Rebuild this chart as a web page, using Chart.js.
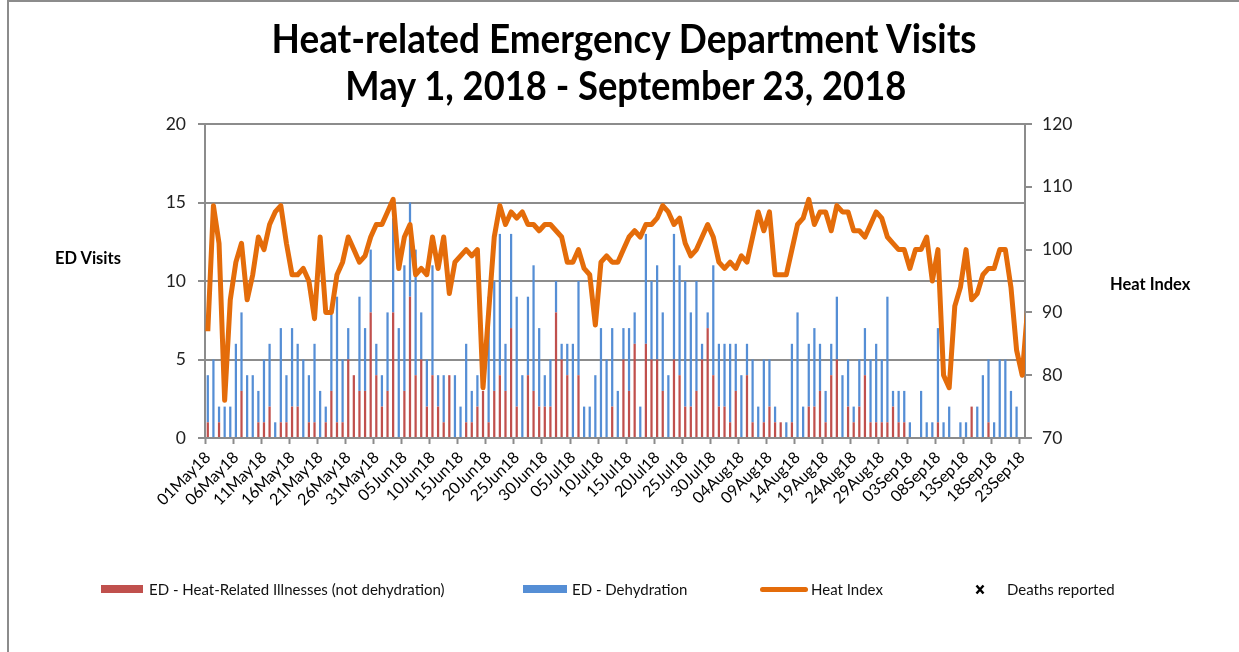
<!DOCTYPE html>
<html>
<head>
<meta charset="utf-8">
<script src="https://cdn.jsdelivr.net/npm/chart.js@4.4.1/dist/chart.umd.min.js"></script>
<style>
html,body{margin:0;padding:0;background:#fff;}
#wrap{position:relative;width:1239px;height:652px;overflow:hidden;font-family:Lato,'Open Sans',sans-serif;color:#000;}
#c{position:absolute;left:0;top:0;}
.frameL{position:absolute;left:7px;top:0;width:2px;height:652px;background:#8c8c8c;}
.frameT{position:absolute;left:7px;top:0;width:1232px;height:2px;background:#8c8c8c;}
.ttl{position:absolute;font-weight:700;font-size:40px;line-height:40px;white-space:nowrap;transform-origin:center center;}
.axt{position:absolute;font-weight:700;font-size:16.5px;line-height:20px;white-space:nowrap;}
.lg{position:absolute;font-size:15px;line-height:18px;white-space:nowrap;color:#111;}
.sw{position:absolute;}
</style>
</head>
<body>
<div id="wrap">
  <canvas id="c" width="1239" height="652"></canvas>
  <div class="frameL"></div>
  <div class="frameT"></div>
  <span class="ttl" id="t1" style="top:18px">Heat-related Emergency Department Visits</span>
  <span class="ttl" id="t2" style="top:65px">May 1, 2018 - September 23, 2018</span>
  <span class="axt" style="left:55px;top:248px">ED Visits</span>
  <span class="axt" style="left:1110px;top:274px">Heat Index</span>
  <div class="sw" style="left:101px;top:585px;width:42px;height:8px;background:#C0504D"></div>
  <span class="lg" style="left:149px;top:580px">ED - Heat-Related Illnesses (not dehydration)</span>
  <div class="sw" style="left:523px;top:585px;width:44px;height:8px;background:#558ED5"></div>
  <span class="lg" style="left:572px;top:580px">ED - Dehydration</span>
  <div class="sw" style="left:760px;top:587px;width:48px;height:5px;border-radius:3px;background:#E46C0A"></div>
  <span class="lg" style="left:811px;top:580px">Heat Index</span>
  <svg class="sw" style="left:975px;top:584px" width="10" height="11" viewBox="0 0 10 11"><path d="M1.5 1.5 L8.5 9.5 M8.5 1.5 L1.5 9.5" stroke="#000" stroke-width="2.4"/></svg>
  <span class="lg" style="left:1007px;top:580px">Deaths reported</span>
</div>
<script>
const categories = [
'01May18','02May18','03May18','04May18','05May18','06May18','07May18','08May18','09May18','10May18',
'11May18','12May18','13May18','14May18','15May18','16May18','17May18','18May18','19May18','20May18',
'21May18','22May18','23May18','24May18','25May18','26May18','27May18','28May18','29May18','30May18',
'31May18','01Jun18','02Jun18','03Jun18','04Jun18','05Jun18','06Jun18','07Jun18','08Jun18','09Jun18',
'10Jun18','11Jun18','12Jun18','13Jun18','14Jun18','15Jun18','16Jun18','17Jun18','18Jun18','19Jun18',
'20Jun18','21Jun18','22Jun18','23Jun18','24Jun18','25Jun18','26Jun18','27Jun18','28Jun18','29Jun18',
'30Jun18','01Jul18','02Jul18','03Jul18','04Jul18','05Jul18','06Jul18','07Jul18','08Jul18','09Jul18',
'10Jul18','11Jul18','12Jul18','13Jul18','14Jul18','15Jul18','16Jul18','17Jul18','18Jul18','19Jul18',
'20Jul18','21Jul18','22Jul18','23Jul18','24Jul18','25Jul18','26Jul18','27Jul18','28Jul18','29Jul18',
'30Jul18','31Jul18','01Aug18','02Aug18','03Aug18','04Aug18','05Aug18','06Aug18','07Aug18','08Aug18',
'09Aug18','10Aug18','11Aug18','12Aug18','13Aug18','14Aug18','15Aug18','16Aug18','17Aug18','18Aug18',
'19Aug18','20Aug18','21Aug18','22Aug18','23Aug18','24Aug18','25Aug18','26Aug18','27Aug18','28Aug18',
'29Aug18','30Aug18','31Aug18','01Sep18','02Sep18','03Sep18','04Sep18','05Sep18','06Sep18','07Sep18',
'08Sep18','09Sep18','10Sep18','11Sep18','12Sep18','13Sep18','14Sep18','15Sep18','16Sep18','17Sep18',
'18Sep18','19Sep18','20Sep18','21Sep18','22Sep18','23Sep18','24Sep18'
];
const tickLabels = ['01May18','06May18','11May18','16May18','21May18','26May18','31May18','05Jun18','10Jun18','15Jun18',
'20Jun18','25Jun18','30Jun18','05Jul18','10Jul18','15Jul18','20Jul18','25Jul18','30Jul18','04Aug18',
'09Aug18','14Aug18','19Aug18','24Aug18','29Aug18','03Sep18','08Sep18','13Sep18','18Sep18','23Sep18'];
const lastShown = '23Sep18';

const heatIllness = [
1,0,1,0,0,0,3,0,0,1, 1,2,0,1,1,2,2,0,1,1, 0,1,3,1,1,5,4,3,3,8, 4,2,3,8,0,3,9,4,5,2,
4,2,1,4,0,0,1,1,2,3, 1,3,4,3,7,2,0,4,3,2, 2,2,8,5,4,0,4,0,0,0, 0,0,2,0,5,3,6,0,6,5,
5,3,0,5,4,2,2,3,5,7, 4,2,2,1,3,0,4,1,0,1, 2,1,1,0,1,0,0,2,2,3, 1,4,5,0,2,1,2,4,1,1,
1,1,2,1,1,0,0,0,0,0, 1,0,0,0,0,0,2,0,0,1, 0,0,0,0,0,0, null];
const dehydration = [
3,5,1,2,2,6,5,4,4,2, 4,4,1,6,3,5,4,5,3,5, 3,1,5,8,4,2,0,6,4,4, 2,2,5,6,7,8,6,8,3,3,
7,2,3,0,4,2,5,2,2,0, 8,7,9,3,6,7,4,5,8,5, 2,3,2,1,2,6,6,2,2,4, 7,5,5,3,2,4,2,2,7,5,
6,5,4,8,7,8,6,7,1,1, 7,4,4,5,3,4,2,4,2,4, 3,1,0,1,5,8,2,4,5,3, 2,2,4,4,3,1,3,3,4,5,
4,8,1,2,2,1,0,3,1,1, 6,1,2,0,1,1,0,2,4,4, 1,5,5,3,2,0, null];
const heatIndex = [
87,107,101,76,92,98,101,92,96,102, 100,104,106,107,101,96,96,97,95,89,
102,90,90,96,98,102,100,98,99,102, 104,104,106,108,97,102,104,96,97,96,
102,97,102,93,98,99,100,99,100,78, 90,102,107,104,106,105,106,104,104,103,
104,104,103,102,98,98,100,97,96,88, 98,99,98,98,100,102,103,102,104,104,
105,107,106,104,105,101,99,100,102,104, 102,98,97,98,97,99,98,102,106,103,
106,96,96,96,100,104,105,108,104,106, 106,103,107,106,106,103,103,102,104,106,
105,102,101,100,100,97,100,100,102,95, 100,80,78,91,94,100,92,93,96,97,
97,100,100,94,84,80,91];
const leftTicks = {min:0, max:20, step:5};
const rightTicks = {min:70, max:120, step:10};

// fit title lines (horizontally condensed like the original)
function fit(id, targetW, cx){
  const el = document.getElementById(id);
  const w = el.getBoundingClientRect().width;
  el.style.left = (cx - w/2) + 'px';
  el.style.transform = 'scaleX(' + (targetW / w) + ')';
}
fit('t1', 705, 624.5);
fit('t2', 561, 625.5);

const GRID = '#8c8c8c';
Chart.defaults.font.family = 'Lato, "Open Sans", sans-serif';
Chart.defaults.color = '#000';
const lastIndex = categories.indexOf(lastShown);

new Chart(document.getElementById('c'), {
  type: 'bar',
  data: {
    labels: categories,
    datasets: [
      {type:'line', label:'Heat Index', data: heatIndex, yAxisID:'y2',
       borderColor:'#E46C0A', backgroundColor:'#E46C0A', borderWidth:5, pointRadius:0,
       tension:0, borderJoinStyle:'round', borderCapStyle:'butt', fill:false,
       clip:{left:3, top:false, right:0, bottom:false}},
      {label:'ED - Heat-Related Illnesses (not dehydration)', data: heatIllness, yAxisID:'y',
       backgroundColor:'#C0504D', stack:'ed', categoryPercentage:1, barPercentage:0.4},
      {label:'ED - Dehydration', data: dehydration, yAxisID:'y',
       backgroundColor:'#558ED5', stack:'ed', categoryPercentage:1, barPercentage:0.4}
    ]
  },
  options: {
    responsive:false,
    animation:false,
    layout:{padding:{left:10, right:0, top:124, bottom:0}},
    plugins:{legend:{display:false}, title:{display:false}, tooltip:{enabled:false}},
    scales:{
      x:{
        stacked:true, offset:true,
        afterDataLimits: s => { s.max = lastIndex; },
        grid:{offset:true, drawOnChartArea:false, drawTicks:true, tickLength:6, tickWidth:2,
              color:'rgba(0,0,0,0)',
              tickColor: c => (c.index !== undefined && c.index % 5 === 0) ? GRID : 'rgba(0,0,0,0)'},
        border:{color:GRID, width:2},
        ticks:{autoSkip:false, maxRotation:45, minRotation:45, padding:4,
               font:{size:16}, color:'#000',
               callback:function(v){ const l = this.getLabelForValue(v); return tickLabels.includes(l) ? l : ''; }},
        afterFit: s => { s.height = 214; }
      },
      y:{
        stacked:true, position:'left', min:leftTicks.min, max:leftTicks.max,
        ticks:{stepSize:leftTicks.step, padding:12, font:{size:17.5}, color:'#222'},
        grid:{color:GRID, lineWidth:2, tickLength:7, tickColor:GRID},
        border:{color:GRID, width:2},
        afterFit: s => { s.width = 195; }
      },
      y2:{
        position:'right', min:rightTicks.min, max:rightTicks.max,
        ticks:{stepSize:rightTicks.step, padding:10, font:{size:17.5}, color:'#222'},
        grid:{drawOnChartArea:false, color:GRID, lineWidth:2, tickLength:7, tickColor:GRID},
        border:{color:GRID, width:2},
        afterFit: s => { s.width = 214; }
      }
    }
  }
});
</script>
</body>
</html>
